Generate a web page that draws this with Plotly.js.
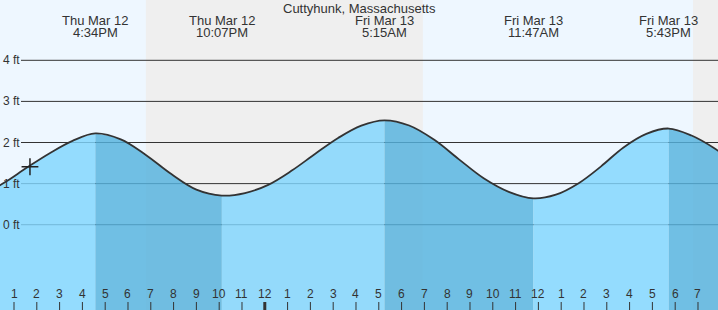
<!DOCTYPE html>
<html>
<head>
<meta charset="utf-8">
<script src="https://cdn.plot.ly/plotly-3.0.1.min.js"></script>
<style>html,body{margin:0;padding:0;background:#fff;}#chart{width:718px;height:310px;}</style>
</head>
<body>
<div id="chart"></div>
<script>
// ---- Data ----
const chartTitle = 'Cuttyhunk, Massachusetts';

const tideTimes = [
  '2026-03-12 11:34','2026-03-12 12:34','2026-03-12 13:34','2026-03-12 14:34','2026-03-12 15:34',
  '2026-03-12 16:34','2026-03-12 17:41','2026-03-12 18:47','2026-03-12 19:54','2026-03-12 21:00',
  '2026-03-12 22:07','2026-03-12 23:08','2026-03-13 00:09','2026-03-13 01:10','2026-03-13 02:12',
  '2026-03-13 03:13','2026-03-13 04:14','2026-03-13 05:15','2026-03-13 06:20','2026-03-13 07:26',
  '2026-03-13 08:31','2026-03-13 09:36','2026-03-13 10:42','2026-03-13 11:47','2026-03-13 12:46',
  '2026-03-13 13:46','2026-03-13 14:45','2026-03-13 15:44','2026-03-13 16:44','2026-03-13 17:43',
  '2026-03-13 18:43','2026-03-13 19:43','2026-03-13 20:43'
];
const tideFeet = [
  0.70, 1.02, 1.39, 1.74, 2.04,
  2.22, 2.076, 1.698, 1.232, 0.854,
  0.71, 0.77, 0.97, 1.31, 1.72,
  2.11, 2.41, 2.54, 2.413, 2.065,
  1.59, 1.13, 0.80, 0.64, 0.73,
  1.01, 1.42, 1.88, 2.21, 2.34,
  2.17, 1.86, 1.45
];

const extremeTimes = ['2026-03-12 16:34','2026-03-12 22:07','2026-03-13 05:15','2026-03-13 11:47','2026-03-13 17:43'];
const extremeTypes = ['H','L','H','L','H'];
const extremeDates = ['Thu Mar 12','Thu Mar 12','Fri Mar 13','Fri Mar 13','Fri Mar 13'];
const extremeClock = ['4:34PM','10:07PM','5:15AM','11:47AM','5:43PM'];

const nightStarts = ['2026-03-12 18:47','2026-03-13 18:47'];
const nightEnds   = ['2026-03-13 06:56','2026-03-13 23:59'];

const nowTime = ['2026-03-12 13:42'];
const nowFeet = [1.41];

const hourTicks = [
  '2026-03-12 13:00','2026-03-12 14:00','2026-03-12 15:00','2026-03-12 16:00','2026-03-12 17:00',
  '2026-03-12 18:00','2026-03-12 19:00','2026-03-12 20:00','2026-03-12 21:00','2026-03-12 22:00',
  '2026-03-12 23:00','2026-03-13 00:00','2026-03-13 01:00','2026-03-13 02:00','2026-03-13 03:00',
  '2026-03-13 04:00','2026-03-13 05:00','2026-03-13 06:00','2026-03-13 07:00','2026-03-13 08:00',
  '2026-03-13 09:00','2026-03-13 10:00','2026-03-13 11:00','2026-03-13 12:00','2026-03-13 13:00',
  '2026-03-13 14:00','2026-03-13 15:00','2026-03-13 16:00','2026-03-13 17:00','2026-03-13 18:00',
  '2026-03-13 19:00'
];
const hourLabels = ['1','2','3','4','5','6','7','8','9','10','11','12','1','2','3','4','5','6','7','8','9','10','11','12','1','2','3','4','5','6','7'];
const midnightTick = '2026-03-13 00:00';

const feetTicks = [0, 1, 2, 3, 4];
const feetLabels = ['0 ft','1 ft','2 ft','3 ft','4 ft'];

// ---- Layout constants ----
const xRange = ['2026-03-12 12:23:10', '2026-03-13 19:52:40'];
const yRange = [-2.075, 5.467];
const DAY_BG = '#eef7ff';
const NIGHT_BG = '#efefef';
const LIGHT_FILL = 'rgba(128,213,254,0.82)';
const DARK_FILL = 'rgba(84,178,222,0.82)';
const TXT = '#333333';
const FONT = 'Liberation Sans, Arial, sans-serif';

// ---- Build fill segments (rising = light, falling = dark) ----
const traces = [];
const ms = t => new Date(t.replace(' ', 'T')).getTime();
const bounds = [tideTimes[0]].concat(extremeTimes, [tideTimes[tideTimes.length - 1]]);
for (let s = 0; s < bounds.length - 1; s++) {
  const a = ms(bounds[s]), b = ms(bounds[s + 1]);
  const sx = [], sy = [];
  tideTimes.forEach((t, i) => { const v = ms(t); if (v >= a && v <= b) { sx.push(t); sy.push(tideFeet[i]); } });
  const falling = s > 0 && extremeTypes[s - 1] === 'H';
  traces.push({x: sx, y: sx.map(() => yRange[0]), mode: 'lines', line: {width: 0}, hoverinfo: 'skip', showlegend: false});
  traces.push({x: sx, y: sy, mode: 'lines', line: {width: 0, shape: 'spline'}, fill: 'tonexty',
    fillcolor: falling ? DARK_FILL : LIGHT_FILL, hoverinfo: 'skip', showlegend: false});
}
// curve line
traces.push({x: tideTimes, y: tideFeet, mode: 'lines', line: {color: '#333', width: 1.8, shape: 'spline'}, hoverinfo: 'skip', showlegend: false});
// current-time marker
traces.push({x: nowTime, y: nowFeet, mode: 'markers', marker: {symbol: 'cross-thin-open', size: 12, color: '#222', line: {color: '#222', width: 1.5}}, hoverinfo: 'skip', showlegend: false});

// ---- Shapes ----
const shapes = [];
nightStarts.forEach((t, i) => shapes.push({type: 'rect', xref: 'x', yref: 'paper', x0: t, x1: nightEnds[i], y0: 0, y1: 1,
  fillcolor: NIGHT_BG, line: {width: 0}, layer: 'below'}));
feetTicks.forEach(v => shapes.push({type: 'line', xref: 'paper', yref: 'y', x0: 21 / 718, x1: 1, y0: v, y1: v,
  line: {color: '#333', width: 1}, layer: 'below'}));
hourTicks.forEach(t => shapes.push({type: 'line', xref: 'x', yref: 'paper', ysizemode: 'pixel', yanchor: 0,
  x0: t, x1: t, y0: 0, y1: 8, line: {color: '#333', width: t === midnightTick ? 3 : 1}, layer: 'above'}));

// ---- Annotations ----
const annotations = [];
annotations.push({text: chartTitle, xref: 'paper', yref: 'paper', x: 0.5, y: 1, xanchor: 'center', yanchor: 'top',
  yshift: 1, showarrow: false, font: {family: FONT, size: 13, color: TXT}});
extremeTimes.forEach((t, i) => {
  annotations.push({text: extremeDates[i], xref: 'x', yref: 'paper', x: t, y: 1, xanchor: 'center', yanchor: 'top',
    yshift: -11, showarrow: false, font: {family: FONT, size: 13, color: TXT}});
  annotations.push({text: extremeClock[i], xref: 'x', yref: 'paper', x: t, y: 1, xanchor: 'center', yanchor: 'top',
    yshift: -23, showarrow: false, font: {family: FONT, size: 13, color: TXT}});
});
feetTicks.forEach((v, i) => annotations.push({text: feetLabels[i], xref: 'paper', yref: 'y', x: 0, y: v,
  xanchor: 'left', yanchor: 'middle', xshift: 1, showarrow: false, font: {family: FONT, size: 12, color: TXT}}));
hourTicks.forEach((t, i) => annotations.push({text: hourLabels[i], xref: 'x', yref: 'paper', x: t, y: 0,
  xanchor: 'center', yanchor: 'bottom', yshift: 7, showarrow: false, font: {family: FONT, size: 12, color: TXT}}));

const layout = {
  width: 718, height: 310,
  margin: {l: 0, r: 0, t: 0, b: 0, pad: 0},
  paper_bgcolor: DAY_BG, plot_bgcolor: DAY_BG,
  showlegend: false, hovermode: false,
  xaxis: {type: 'date', range: xRange, showgrid: false, zeroline: false, showticklabels: false, ticks: '', showline: false, fixedrange: true},
  yaxis: {range: yRange, showgrid: false, zeroline: false, showticklabels: false, ticks: '', showline: false, fixedrange: true},
  shapes: shapes,
  annotations: annotations
};

Plotly.newPlot('chart', traces, layout, {staticPlot: true, displayModeBar: false});
</script>
</body>
</html>
